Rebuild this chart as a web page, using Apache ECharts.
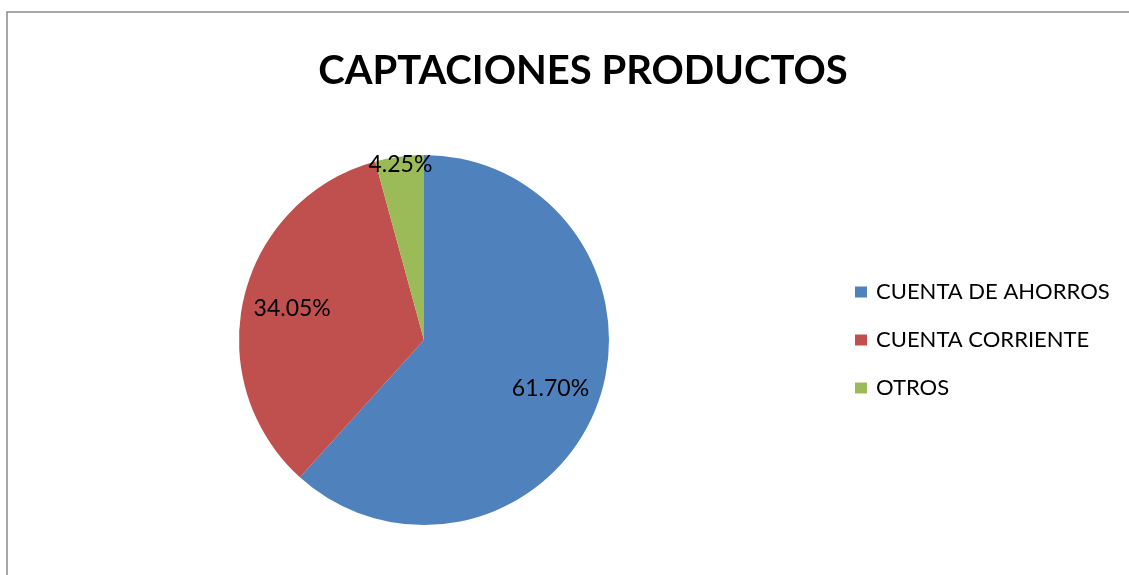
<!DOCTYPE html>
<html>
<head>
<meta charset="utf-8">
<script src="https://cdn.jsdelivr.net/npm/echarts@6/dist/echarts.min.js"></script>
<style>
  html, body { margin: 0; padding: 0; background: #ffffff; overflow: hidden; }
  #chart { width: 1129px; height: 575px; }
</style>
</head>
<body>
<div id="chart"></div>
<script>
// Product deposit shares (percent)
const categories = ['CUENTA DE AHORROS', 'CUENTA CORRIENTE', 'OTROS'];
const shares = [61.70, 34.05, 4.25];
const colors = ['#4F81BD', '#C0504D', '#9BBB59'];
const titleText = 'CAPTACIONES PRODUCTOS';

const FONT = 'Lato, "Open Sans", sans-serif';
const CENTER = [424, 340];
const R = 185;

const pieData = categories.map((name, i) => ({
  name: name,
  value: shares[i],
  itemStyle: { color: colors[i] }
}));

// Transparent ring carrying labels of a chosen subset of slices
function labelRing(radius, shown) {
  return {
    type: 'pie',
    silent: true,
    center: CENTER,
    radius: radius,
    startAngle: 90,
    clockwise: true,
    legendHoverLink: false,
    tooltip: { show: false },
    emphasis: { disabled: true },
    itemStyle: { color: 'rgba(0,0,0,0)', borderWidth: 0 },
    label: {
      position: 'inside',
      color: '#000000',
      fontFamily: FONT,
      fontSize: 23,
      formatter: p => p.value.toFixed(2) + '%'
    },
    labelLine: { show: false },
    data: categories.map((name, i) => ({
      name: name,
      value: shares[i],
      label: { show: shown.includes(i) }
    }))
  };
}

const chart = echarts.init(document.getElementById('chart'), null, { renderer: 'canvas' });
chart.setOption({
  animation: false,
  backgroundColor: '#ffffff',
  // chart-area frame: left and top edges
  graphic: [{
    type: 'polyline',
    shape: { points: [[7, 600], [7, 12], [1140, 12]] },
    style: { fill: 'none', stroke: '#8a8a8a', lineWidth: 1.5 },
    silent: true
  }],
  title: {
    text: titleText,
    left: 578,
    textAlign: 'center',
    top: 46,
    textStyle: {
      fontFamily: FONT,
      fontWeight: 'bold',
      fontSize: 40,
      color: '#000000'
    }
  },
  legend: {
    orient: 'vertical',
    left: 850,
    top: 276,
    icon: 'rect',
    itemWidth: 12,
    itemHeight: 11,
    itemGap: 26,
    data: categories,
    textStyle: {
      fontFamily: FONT,
      fontSize: 22,
      color: '#000000',
      padding: [0, 0, 0, 4]
    }
  },
  series: [
    {
      type: 'pie',
      center: CENTER,
      radius: [0, R],
      startAngle: 90,
      clockwise: true,
      silent: true,
      label: { show: false },
      labelLine: { show: false },
      itemStyle: { borderWidth: 0 },
      data: pieData
    },
    labelRing([80, R], [0, 1]),
    labelRing([164, R], [2])
  ]
});
</script>
</body>
</html>
